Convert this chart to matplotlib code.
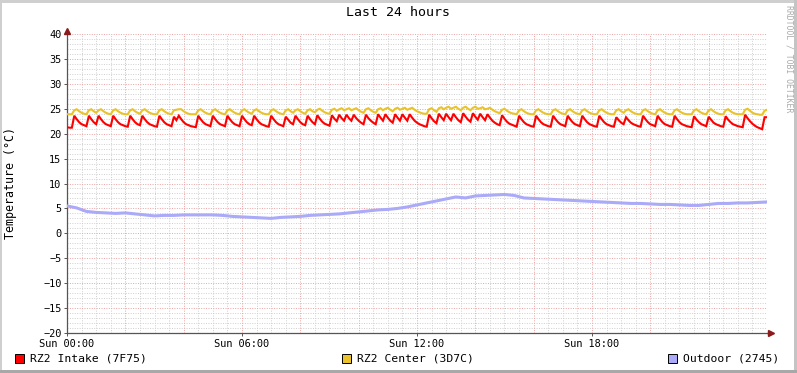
import numpy as np
import matplotlib
matplotlib.use("Agg")
import matplotlib.pyplot as plt
from matplotlib.patches import Rectangle

# RZ2 Intake, one value every 5 minutes (one row per hour)
intake = [
    21.3, 21.2, 21.2, 23.6, 22.9, 22.3, 21.9, 21.7, 21.5, 23.6, 22.9, 22.3,
    21.9, 23.6, 22.9, 22.3, 21.9, 21.7, 21.5, 23.6, 22.9, 22.3, 21.9, 21.7,
    21.5, 21.4, 23.6, 22.9, 22.3, 21.9, 21.7, 23.6, 22.9, 22.3, 21.9, 21.7,
    21.5, 21.4, 23.6, 22.9, 22.3, 21.9, 21.7, 21.5, 23.4, 22.7, 23.6, 22.9,
    22.3, 21.9, 21.7, 21.5, 21.4, 21.3, 23.6, 22.9, 22.3, 21.9, 21.7, 21.5,
    23.6, 22.9, 22.3, 21.9, 21.7, 21.5, 23.6, 22.9, 22.3, 21.9, 21.7, 21.5,
    23.6, 22.9, 22.3, 21.9, 21.7, 23.6, 22.9, 22.3, 21.9, 21.7, 21.5, 21.4,
    23.6, 22.9, 22.3, 21.9, 21.7, 21.5, 23.4, 22.8, 22.2, 21.9, 23.6, 22.9,
    22.3, 21.9, 21.7, 23.6, 22.9, 22.3, 21.9, 23.7, 23.0, 22.4, 22.0, 21.8,
    21.6, 23.7, 23.0, 22.5, 23.8, 23.1, 22.6, 23.8, 23.1, 22.6, 23.8, 23.1,
    22.6, 22.2, 21.9, 23.8, 23.1, 22.6, 22.2, 21.9, 23.9, 23.2, 22.6, 23.9,
    23.2, 22.6, 22.2, 23.9, 23.2, 22.6, 23.9, 23.2, 22.6, 23.9, 23.2, 22.6,
    22.2, 21.9, 21.7, 21.5, 21.4, 23.8, 23.1, 22.5, 22.1, 24.0, 23.3, 22.7,
    24.0, 23.3, 22.7, 24.0, 23.3, 22.7, 22.3, 24.1, 23.4, 22.8, 22.4, 24.1,
    23.4, 22.8, 24.0, 23.3, 22.7, 23.9, 23.2, 22.6, 22.2, 21.9, 21.7, 23.7,
    23.0, 22.4, 22.0, 21.8, 21.6, 21.4, 23.6, 22.9, 22.3, 21.9, 21.7, 21.5,
    21.4, 23.6, 22.9, 22.3, 21.9, 21.7, 21.5, 21.4, 23.6, 22.9, 22.3, 21.9,
    21.7, 21.5, 23.6, 22.9, 22.3, 21.9, 21.7, 21.5, 23.6, 22.9, 22.3, 21.9,
    21.7, 21.5, 21.4, 23.6, 22.9, 22.3, 21.9, 21.7, 21.5, 21.4, 23.3, 22.7,
    22.2, 21.9, 23.3, 22.7, 22.2, 21.9, 21.7, 21.5, 21.4, 23.6, 22.9, 22.3,
    21.9, 21.7, 21.5, 23.6, 22.9, 22.3, 21.9, 21.7, 21.5, 21.4, 23.6, 22.9,
    22.3, 21.9, 21.7, 21.5, 21.4, 21.3, 23.5, 22.8, 22.3, 21.9, 21.7, 21.5,
    23.4, 22.8, 22.2, 21.9, 21.7, 21.5, 21.4, 23.5, 22.8, 22.3, 21.9, 21.7,
    21.5, 21.4, 21.3, 23.8, 23.1, 22.5, 22.0, 21.6, 21.3, 21.1, 20.9, 23.3,
    23.3,
]

# RZ2 Center, same 5 minute steps
center = [
    23.9, 23.9, 23.9, 24.7, 24.9, 24.5, 24.2, 24.0, 23.9, 24.7, 24.9, 24.5,
    24.2, 24.7, 24.9, 24.5, 24.2, 24.0, 23.9, 24.7, 24.9, 24.5, 24.2, 24.0,
    23.9, 23.9, 24.7, 24.9, 24.5, 24.2, 24.0, 24.7, 24.9, 24.5, 24.2, 24.0,
    23.9, 23.9, 24.7, 24.9, 24.5, 24.2, 24.0, 23.9, 24.7, 24.8, 24.9, 24.9,
    24.5, 24.2, 24.0, 23.9, 23.9, 23.9, 24.7, 24.9, 24.5, 24.2, 24.0, 23.9,
    24.7, 24.9, 24.5, 24.2, 24.0, 23.9, 24.7, 24.9, 24.5, 24.2, 24.0, 23.9,
    24.7, 24.9, 24.5, 24.2, 24.0, 24.7, 24.9, 24.5, 24.2, 24.0, 23.9, 23.9,
    24.7, 24.9, 24.5, 24.2, 24.0, 23.9, 24.7, 24.9, 24.5, 24.2, 24.7, 24.9,
    24.5, 24.2, 24.0, 24.7, 24.9, 24.5, 24.3, 24.8, 25.0, 24.6, 24.3, 24.1,
    24.0, 24.8, 25.0, 24.6, 24.9, 25.1, 24.7, 24.9, 25.1, 24.7, 24.9, 25.1,
    24.7, 24.4, 24.2, 24.9, 25.1, 24.7, 24.4, 24.2, 24.9, 25.1, 24.7, 25.0,
    25.2, 24.8, 24.5, 25.0, 25.2, 24.8, 25.0, 25.2, 24.8, 25.0, 25.2, 24.8,
    24.5, 24.3, 24.1, 24.0, 24.0, 24.9, 25.1, 24.7, 24.4, 25.1, 25.3, 24.9,
    25.2, 25.4, 25.0, 25.2, 25.4, 25.0, 24.7, 25.2, 25.4, 25.0, 24.7, 25.2,
    25.4, 25.0, 25.1, 25.3, 24.9, 25.0, 25.2, 24.8, 24.5, 24.3, 24.1, 24.8,
    25.0, 24.6, 24.3, 24.1, 24.0, 23.9, 24.7, 24.9, 24.5, 24.2, 24.0, 23.9,
    23.9, 24.7, 24.9, 24.5, 24.2, 24.0, 23.9, 23.9, 24.7, 24.9, 24.5, 24.2,
    24.0, 23.9, 24.7, 24.9, 24.5, 24.2, 24.0, 23.9, 24.7, 24.9, 24.5, 24.2,
    24.0, 23.9, 23.9, 24.7, 24.9, 24.5, 24.2, 24.0, 23.9, 23.9, 24.7, 24.9,
    24.5, 24.2, 24.7, 24.9, 24.5, 24.2, 24.0, 23.9, 23.9, 24.7, 24.9, 24.5,
    24.2, 24.0, 23.9, 24.7, 24.9, 24.5, 24.2, 24.0, 23.9, 23.9, 24.7, 24.9,
    24.5, 24.2, 24.0, 23.9, 23.9, 23.9, 24.7, 24.9, 24.5, 24.2, 24.0, 23.9,
    24.7, 24.9, 24.5, 24.2, 24.0, 23.9, 23.9, 24.7, 24.9, 24.5, 24.2, 24.0,
    23.9, 23.9, 23.9, 24.8, 25.0, 24.6, 24.2, 24.0, 23.9, 23.8, 23.8, 24.6,
    24.8,
]

# Outdoor, one value every 20 minutes
outdoor = [
    5.5, 5.1, 4.4, 4.2, 4.1, 4.0, 4.1, 3.9, 3.7, 3.5, 3.6, 3.6,
    3.7, 3.7, 3.7, 3.7, 3.6, 3.4, 3.3, 3.2, 3.1, 3.0, 3.2, 3.3,
    3.4, 3.6, 3.7, 3.8, 3.9, 4.1, 4.3, 4.5, 4.7, 4.8, 5.0, 5.3,
    5.7, 6.1, 6.5, 6.9, 7.3, 7.1, 7.5, 7.6, 7.7, 7.8, 7.6, 7.1,
    7.0, 6.9, 6.8, 6.7, 6.6, 6.5, 6.4, 6.3, 6.2, 6.1, 6.0, 6.0,
    5.9, 5.8, 5.8, 5.7, 5.6, 5.6, 5.8, 6.0, 6.0, 6.1, 6.1, 6.2,
    6.3,
]

xticks = [0, 6, 12, 18]
xlabels = ["Sun 00:00", "Sun 06:00", "Sun 12:00", "Sun 18:00"]
names = ["RZ2 Intake (7F75)", "RZ2 Center (3D7C)", "Outdoor (2745)"]
colors = ["#ff0000", "#eac32a", "#aaaaf8"]

mono = "DejaVu Sans Mono"
W, H = 797, 373

t5 = np.arange(len(intake)) * 5 / 60.0
t20 = np.arange(len(outdoor)) * 20 / 60.0

fig = plt.figure(figsize=(W / 100, H / 100), dpi=100)
fig.patch.set_facecolor("white")

# grey frame round the picture
for (x0, y0, w, h, c) in [(0, H - 3, W, 3, "#cfcfcf"), (0, 0, 2, H, "#cfcfcf"),
                          (W - 3, 0, 3, H, "#c4c4c4"), (0, 0, W, 3, "#a8a8a8")]:
    fig.patches.append(Rectangle((x0 / W, y0 / H), w / W, h / H, transform=fig.transFigure,
                                 facecolor=c, edgecolor="none", zorder=-5))

ax = fig.add_axes([67 / W, 1 - 333 / H, 700 / W, 299 / H])
ax.set_xlim(0, 24)
ax.set_ylim(-20, 40)

# grid, minor grey and major red
for v in np.arange(-20, 41, 1):
    if v % 5:
        ax.axhline(v, color="#cfcfcf", lw=0.7, ls=(0, (1, 1.5)), zorder=0)
for v in np.arange(0, 24.01, 0.5):
    if v % 2:
        ax.axvline(v, color="#cfcfcf", lw=0.7, ls=(0, (1, 1.5)), zorder=0)
for v in np.arange(-15, 41, 5):
    ax.axhline(v, color="#eba3a3", lw=0.7, ls=(0, (1, 1.5)), zorder=1)
for v in np.arange(2, 24.01, 2):
    ax.axvline(v, color="#eba3a3", lw=0.7, ls=(0, (1, 1.5)), zorder=1)

ax.plot(t5, intake, color=colors[0], lw=1.5, zorder=4, solid_joinstyle="miter")
ax.plot(t5, center, color=colors[1], lw=1.5, zorder=3, solid_joinstyle="miter")
ax.plot(t20, outdoor, color=colors[2], lw=2.2, zorder=3)

for s in ["top", "right"]:
    ax.spines[s].set_visible(False)
for s in ["left", "bottom"]:
    ax.spines[s].set_color("#555555")
    ax.spines[s].set_linewidth(0.9)

# arrows at axis ends
ax.plot([24.13], [-20], marker=">", ms=4, color="#8b1a1a", clip_on=False, zorder=6)
ax.plot([0], [40.6], marker="^", ms=4, color="#8b1a1a", clip_on=False, zorder=6)
ax.plot([24, 24.13], [-20, -20], color="#555555", lw=0.9, clip_on=False, zorder=5)

ax.set_yticks(np.arange(-20, 41, 5))
ax.set_xticks(xticks)
ax.set_xticklabels(xlabels)
ax.tick_params(axis="both", length=2, width=0.7, color="#555555", pad=2, labelsize=7.4)
for lab in ax.get_xticklabels() + ax.get_yticklabels():
    lab.set_fontfamily(mono)

fig.text(11 / W, 1 - 183 / H, "Temperature (°C)", rotation=90, ha="center", va="center",
         fontfamily=mono, fontsize=8.4)

fig.text(398 / W, 1 - 13 / H, "Last 24 hours", ha="center", va="center",
         fontfamily=mono, fontsize=9.5)
fig.text(789 / W, 1 - 5 / H, "RRDTOOL / TOBI OETIKER", ha="center", va="top",
         rotation=270, fontfamily=mono, fontsize=5.9, color="#aaaaaa")

# legend
for (sx, name, c) in [(15, names[0], colors[0]), (342, names[1], colors[1]), (668, names[2], colors[2])]:
    fig.patches.append(Rectangle((sx / W, 1 - 363 / H), 9 / W, 9 / H, transform=fig.transFigure,
                                 facecolor=c, edgecolor="black", lw=0.7))
    fig.text((sx + 15) / W, 1 - 358.5 / H, name, ha="left", va="center",
             fontfamily=mono, fontsize=8.2)

fig.savefig("out.png", dpi=100)
